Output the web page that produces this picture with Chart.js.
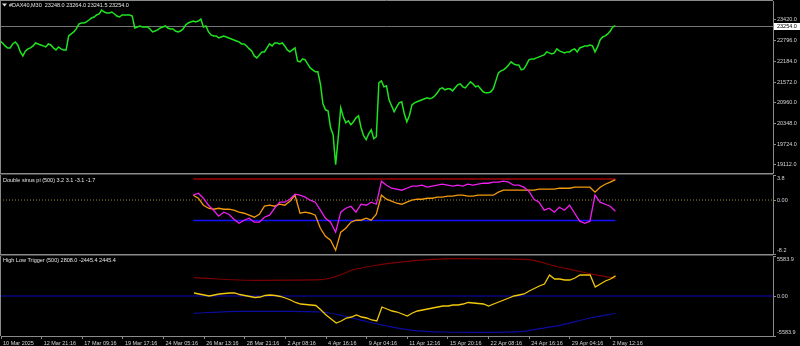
<!DOCTYPE html>
<html>
<head>
<meta charset="utf-8">
<title>DAX40 M30</title>
<script src="https://cdn.jsdelivr.net/npm/chart.js@4.4.1/dist/chart.umd.min.js"></script>
<style>
  html, body { margin: 0; padding: 0; background: #000; }
  #wrap { position: relative; width: 800px; height: 346px; overflow: hidden; background: #000; }
  canvas { position: absolute; left: 0; }
</style>
</head>
<body>
<div id="wrap">
  <!-- canvases overlap a little so edge labels never squeeze the plot areas -->
  <canvas id="priceChart" width="800" height="182" style="top:-4px"></canvas>
  <canvas id="dspChart" width="800" height="95" style="top:167px"></canvas>
  <canvas id="hltChart" width="800" height="98" style="top:248px"></canvas>
</div>
<script>
// time axis: one label every 8 slots, 153 slots across the pane
const timeLabels = ['10 Mar 2025', '12 Mar 21:16', '17 Mar 09:16', '19 Mar 17:16', '24 Mar 05:16',
    '26 Mar 13:16', '28 Mar 21:16', '2 Apr 08:16', '4 Apr 16:16', '9 Apr 04:16', '11 Apr 12:16',
    '15 Apr 20:16', '22 Apr 08:16', '24 Apr 16:16', '29 Apr 04:16', '2 May 12:16'];
const slotsPerLabel = 8;
const lastSlot = 152;

// #DAX40 close, two values per slot
const closes = [22796, 22737, 22648, 22588, 22588, 22707, 22767, 22677, 22470, 22351,
    22499, 22559, 22588, 22648, 22737, 22707, 22677, 22648, 22618, 22707,
    22677, 22588, 22529, 22618, 22559, 22529, 22529, 22945, 23004, 23064,
    23153, 23301, 23331, 23331, 23361, 23420, 23479, 23509, 23568, 23598,
    23717, 23658, 23628, 23628, 23658, 23598, 23539, 23509, 23568, 23568,
    23568, 23568, 23539, 23182, 23212, 23242, 23212, 23212, 23212, 23153,
    23064, 23093, 23123, 23182, 23212, 23242, 23182, 23153, 23153, 23093,
    23064, 23093, 23153, 23271, 23331, 23361, 23390, 23361, 23390, 23450,
    23212, 23242, 23064, 22974, 22945, 22945, 22885, 22915, 22945, 22915,
    22885, 22856, 22826, 22796, 22767, 22707, 22707, 22648, 22559, 22499,
    22351, 22291, 22380, 22470, 22470, 22588, 22707, 22648, 22737, 22737,
    22707, 22737, 22648, 22529, 22470, 22529, 22588, 22202, 22173, 22262,
    22232, 22113, 21994, 21935, 21876, 21876, 21519, 20925, 20747, 20717,
    20212, 20004, 19113, 19915, 20806, 20539, 20361, 20420, 20301, 20391,
    20509, 20569, 20212, 19975, 19856, 20034, 20153, 19886, 19945, 21549,
    21608, 21430, 21460, 21044, 20866, 20688, 20836, 20955, 20985, 20628,
    20391, 20569, 20895, 20955, 20985, 21014, 21044, 21074, 21103, 21074,
    21103, 21163, 21252, 21371, 21400, 21341, 21371, 21371, 21311, 21400,
    21489, 21519, 21430, 21400, 21489, 21579, 21519, 21430, 21460, 21371,
    21282, 21252, 21252, 21282, 21371, 21608, 21846, 21905, 21935, 21994,
    22083, 22173, 22113, 22083, 22083, 21935, 21965, 22083, 22232, 22262,
    22262, 22291, 22321, 22351, 22380, 22470, 22440, 22410, 22440, 22559,
    22499, 22470, 22440, 22470, 22470, 22529, 22559, 22470, 22588, 22618,
    22648, 22648, 22677, 22648, 22470, 22618, 22826, 22915, 22945, 23004,
    23093, 23212, 23254];
const priceTicks = [23420, 22796, 22184, 21572, 20960, 20348, 19724, 19112];
const ohlc = [23248.0, 23264.0, 23241.5, 23254.0];

// indicators start at slot 38 (period 500), one value per slot
const indStart = 38;

// Double sinus pi
const dspLevels = [3.2, -3.1];
const dspFast = [0.73, 1.03, 0.27, -0.79, -1.55, -2.46, -1.85, -2.16, -2.92, -3.53,
    -3.07, -2.77, -3.37, -3.37, -2.61, -2.31, -1.25, -0.33, -0.33, 0.12,
    0.88, 0.73, 0.43, -0.03, -0.33, -1.55, -2.77, -3.37, -4.89, -1.85,
    -1.25, -0.94, -1.85, -0.64, -0.79, -0.33, -0.64, 2.86, 2.25, 1.79,
    1.64, 1.49, 1.79, 2.10, 2.10, 2.25, 1.95, 2.10, 2.25, 2.40,
    2.25, 2.10, 2.25, 2.10, 2.40, 2.25, 2.40, 2.55, 2.55, 2.71,
    2.71, 2.86, 2.71, 2.25, 2.25, 1.95, 1.34, 0.12, -0.33, -1.55,
    -1.25, -1.85, -1.09, -1.55, -0.79, -2.01, -3.22, -3.53, -3.22, 0.73,
    -0.33, -0.64, -0.94, -1.70];
const dspSlow = [0.73, 0.27, -0.79, -1.25, -1.40, -1.25, -1.40, -1.40, -1.55, -1.85,
    -2.01, -2.31, -2.61, -2.16, -0.94, -0.79, -0.94, -0.64, -0.79, -0.18,
    0.73, -2.01, -1.85, -2.01, -2.31, -4.29, -5.50, -6.11, -7.63, -4.89,
    -4.29, -3.37, -3.07, -3.07, -2.77, -3.07, -2.16, 0.73, 0.12, -0.18,
    -0.49, -0.64, -0.33, -0.03, 0.12, 0.12, 0.27, 0.27, 0.43, 0.43,
    0.58, 0.58, 0.73, 0.73, 0.58, 0.58, 0.73, 0.73, 0.73, 0.73,
    1.19, 1.49, 1.49, 1.49, 1.49, 1.49, 1.49, 1.49, 1.64, 1.64,
    1.64, 1.64, 1.79, 1.79, 1.79, 1.95, 1.95, 1.95, 1.95, 1.19,
    1.95, 2.40, 2.71, 3.10];
const dspTicks = [3.8, 0, -8.2];

// High Low Trigger
const hltTrigger = [419, 279, 140, 0, 140, 279, 349, 419, 419, 209,
    70, -70, -209, -140, 70, 140, 70, -70, -279, -558,
    -907, -1117, -1187, -1256, -1326, -1954, -2652, -3211, -3769, -3490,
    -3071, -2932, -2652, -2932, -3071, -3350, -3490, -1536, -1815, -2094,
    -2234, -2513, -2792, -2373, -2094, -1954, -1815, -1675, -1536, -1396,
    -1396, -1256, -1256, -1117, -907, -977, -1047, -1117, -1396, -1117,
    -838, -558, -279, 0, 140, 279, 698, 1047, 1396, 1675,
    2932, 2373, 2373, 2234, 2234, 2513, 2932, 2932, 2932, 1256,
    1675, 2094, 2373, 2808];
const hltUpperSlots = [38, 50, 63, 67, 69, 72, 75, 80, 85, 90, 100, 103, 105, 109, 113, 116, 121];
const hltUpper = [2555, 2192, 2275, 2973, 3588, 4048, 4425, 4844, 5123, 5207, 5165, 5123, 4984, 4188, 3588, 3113, 2445];
const hltLowerSlots = [38, 47, 57, 63, 67, 71, 76, 81, 87, 94, 103, 106, 110, 116, 121];
const hltLower = [-2415, -2136, -2136, -2234, -2694, -3392, -4188, -4788, -5026, -5067, -4928, -4565, -4090, -3071, -2445];
const hltTicks = [5583.9, 0, -5583.9];

const frameGrey = '#8a8a8a';
const labelGrey = '#d4d4d4';
const smallFont = { family: 'Liberation Sans', size: 5.5 };

const fromStart = arr => arr.map((v, i) => ({ x: indStart + i, y: v }));
const atSlots = (slots, arr) => arr.map((v, i) => ({ x: slots[i], y: v }));
const lastIdx = indStart + dspFast.length - 1;
const flat = (v, x0, x1) => [{ x: x0, y: v }, { x: x1, y: v }];
const fmtLevel = v => v === 0 ? '0.00' : v.toFixed(1);

function line(data, color, width, extra) {
    return Object.assign({
        data: data,
        borderColor: color,
        borderWidth: width,
        pointRadius: 0,
        tension: 0,
        fill: false
    }, extra || {});
}

// the min/max labels of a sub-window sit just inside the pane, like MT4 does
function rightAxis(min, max, values, fmt, insetEdges) {
    return {
        position: 'right',
        min: min,
        max: max,
        afterFit: s => { s.width = 27; },
        afterBuildTicks: s => { s.ticks = values.map(v => ({ value: v })); },
        grid: { drawOnChartArea: false, drawTicks: true, tickLength: 3, color: frameGrey },
        border: { display: true, color: frameGrey, width: 1 },
        ticks: {
            color: labelGrey, font: smallFont, padding: 1, autoSkip: false,
            callback: v => {
                const s = fmt(v);
                if (insetEdges && v === max) return ['', s];
                if (insetEdges && v === min) return [s, ''];
                return s;
            }
        }
    };
}

function timeAxis(show) {
    return {
        type: 'linear',
        min: 0,
        max: lastSlot,
        display: show,
        afterFit: s => { s.height = show ? 10 : 0; },
        afterBuildTicks: s => { s.ticks = timeLabels.map((t, i) => ({ value: i * slotsPerLabel })); },
        grid: { drawOnChartArea: false, drawTicks: true, tickLength: 3, color: frameGrey },
        border: { display: true, color: frameGrey, width: 1 },
        ticks: {
            color: labelGrey, font: smallFont, autoSkip: false, maxRotation: 0,
            align: 'start', padding: 1, labelOffset: 2,
            callback: (v, i) => timeLabels[i]
        }
    };
}

// pane frame line + pane caption
const paneDecor = {
    id: 'paneDecor',
    afterDraw(chart, args, opts) {
        const ctx = chart.ctx;
        const a = chart.chartArea;
        const fy = a.top - opts.frameGap;
        ctx.save();
        ctx.strokeStyle = frameGrey;
        ctx.lineWidth = opts.frameWidth;
        ctx.beginPath();
        ctx.moveTo(0, fy);
        ctx.lineTo(a.right, fy);
        ctx.stroke();
        ctx.lineWidth = 1;
        ctx.beginPath();
        ctx.moveTo(0.5, a.top);
        ctx.lineTo(0.5, a.bottom);
        ctx.stroke();
        if (opts.arrow) {
            ctx.fillStyle = '#e0e0e0';
            ctx.beginPath();
            ctx.moveTo(2, a.top + 2.5);
            ctx.lineTo(7, a.top + 2.5);
            ctx.lineTo(4.5, a.top + 5.5);
            ctx.closePath();
            ctx.fill();
        }
        ctx.fillStyle = '#e6e6e6';
        ctx.font = '5.5px "Liberation Sans"';
        ctx.textBaseline = 'middle';
        ctx.fillText(opts.title, opts.titleX, a.top + opts.titleDy);
        ctx.restore();
    }
};

// grey bid line and white price tag
const lastPriceTag = {
    id: 'lastPriceTag',
    beforeDatasetsDraw(chart) {
        const ctx = chart.ctx;
        const a = chart.chartArea;
        const py = Math.round(chart.scales.y.getPixelForValue(closes[closes.length - 1])) + 0.5;
        ctx.save();
        ctx.strokeStyle = '#747474';
        ctx.lineWidth = 1;
        ctx.beginPath();
        ctx.moveTo(a.left, py);
        ctx.lineTo(a.right, py);
        ctx.stroke();
        ctx.restore();
    },
    afterDraw(chart) {
        const ctx = chart.ctx;
        const a = chart.chartArea;
        const last = closes[closes.length - 1];
        const py = Math.round(chart.scales.y.getPixelForValue(last)) + 0.5;
        ctx.save();
        ctx.fillStyle = '#ffffff';
        ctx.fillRect(a.right + 1, py - 3.5, 26, 7);
        ctx.fillStyle = '#000000';
        ctx.font = '5.5px "Liberation Sans"';
        ctx.textBaseline = 'middle';
        ctx.fillText(last.toFixed(1), a.right + 4, py);
        ctx.restore();
    }
};

const baseOptions = {
    responsive: false,
    animation: false,
    events: [],
    plugins: { legend: { display: false }, tooltip: { enabled: false } }
};

new Chart(document.getElementById('priceChart'), {
    type: 'line',
    data: {
        datasets: [line(closes.map((v, i) => ({ x: i / 2, y: v })), '#1ee41e', 1.5)]
    },
    options: Object.assign({}, baseOptions, {
        layout: { autoPadding: false, padding: { top: 5, bottom: 4, left: 0, right: 0 } },
        scales: {
            x: timeAxis(false),
            y: rightAxis(18845, 23985, priceTicks, v => v.toFixed(1), false)
        },
        plugins: Object.assign({}, baseOptions.plugins, {
            paneDecor: {
                frameGap: 0.5, frameWidth: 1, arrow: true, titleX: 9, titleDy: 4,
                title: '#DAX40,M30  ' + ohlc.map(v => v.toFixed(1)).join(' ')
            }
        })
    }),
    plugins: [paneDecor, lastPriceTag]
});

new Chart(document.getElementById('dspChart'), {
    type: 'line',
    data: {
        datasets: [
            line(fromStart(dspFast), '#f01ef0', 1.3),
            line(fromStart(dspSlow), '#f29a0c', 1.3),
            line(flat(dspLevels[0], indStart, lastIdx), '#a00000', 1.5),
            line(flat(dspLevels[1], indStart, lastIdx), '#1212ff', 1.5),
            line(flat(0, 0, lastSlot), '#9c8834', 1, { borderDash: [1, 2] })
        ]
    },
    options: Object.assign({}, baseOptions, {
        layout: { autoPadding: false, padding: { top: 8, bottom: 8, left: 0, right: 0 } },
        scales: {
            x: timeAxis(false),
            y: rightAxis(-8.2, 3.8, dspTicks, fmtLevel, true)
        },
        plugins: Object.assign({}, baseOptions.plugins, {
            paneDecor: {
                frameGap: 1.25, frameWidth: 1.5, arrow: false, titleX: 3, titleDy: 5.5,
                title: 'Double sinus pi (500) 3.2 3.1 -3.1 -1.7'
            }
        })
    }),
    plugins: [paneDecor]
});

new Chart(document.getElementById('hltChart'), {
    type: 'line',
    data: {
        datasets: [
            line(fromStart(hltTrigger), '#f2c80a', 1.3),
            line(atSlots(hltUpperSlots, hltUpper), '#7c0000', 1.2, { cubicInterpolationMode: 'monotone' }),
            line(atSlots(hltLowerSlots, hltLower), '#0c0ca0', 1.2, { cubicInterpolationMode: 'monotone' }),
            line(flat(0, 0, lastSlot), '#06065e', 2)
        ]
    },
    options: Object.assign({}, baseOptions, {
        layout: { autoPadding: false, padding: { top: 8, bottom: 0, left: 0, right: 0 } },
        scales: {
            x: timeAxis(true),
            y: rightAxis(-5583.9, 5583.9, hltTicks, fmtLevel, true)
        },
        plugins: Object.assign({}, baseOptions.plugins, {
            paneDecor: {
                frameGap: 1.25, frameWidth: 1.5, arrow: false, titleX: 3, titleDy: 4,
                title: 'High Low Trigger (500) 2808.0 -2445.4 2445.4'
            }
        })
    }),
    plugins: [paneDecor]
});
</script>
</body>
</html>
